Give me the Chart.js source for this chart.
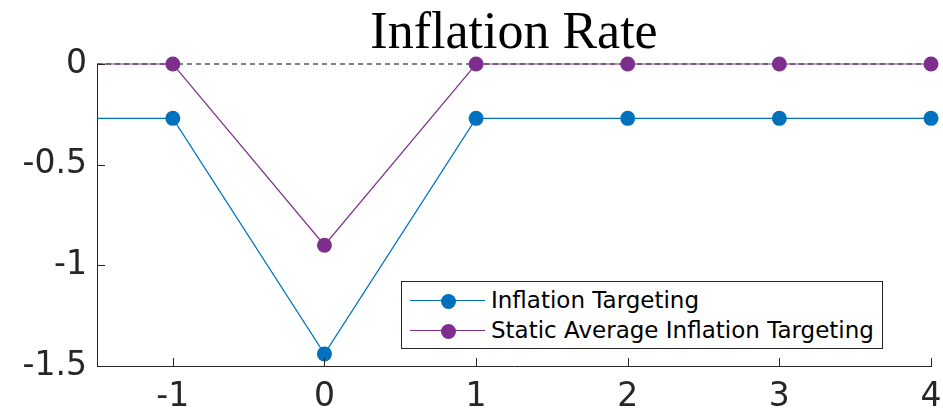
<!DOCTYPE html>
<html>
<head>
<meta charset="utf-8">
<script src="https://cdn.jsdelivr.net/npm/chart.js@4.4.0/dist/chart.umd.min.js"></script>
<style>
  body { margin: 0; background: #fff; }
  #wrap { position: relative; width: 943px; height: 415px; }
  #leyenda {
    position: absolute; left: 401px; top: 281px; width: 480px; height: 66px;
    border: 1px solid #262626; background: #fff;
    font-family: "DejaVu Sans", sans-serif; font-size: 23px; color: #000;
  }
  .fila { position: absolute; left: 0; height: 30px; line-height: 30px; white-space: nowrap; }
  .muestra { position: absolute; left: 8px; top: 14px; width: 75px; height: 0; border-top: 1.2px solid; }
  .punto { position: absolute; left: 39px; top: 8px; width: 15px; height: 15px; border-radius: 50%; }
  .texto { position: absolute; left: 89px; top: -1px; }
</style>
</head>
<body>
<div id="wrap">
  <canvas id="graficaInflacion" width="943" height="415"></canvas>
  <div id="leyenda">
    <div class="fila" style="top:4px"><div class="muestra" style="border-color:#0072BD"></div><div class="punto" style="background:#0072BD"></div><span class="texto">Inflation Targeting</span></div>
    <div class="fila" style="top:34px"><div class="muestra" style="border-color:#7E2F8E"></div><div class="punto" style="background:#7E2F8E"></div><span class="texto">Static Average Inflation Targeting</span></div>
  </div>
</div>
<script>
// datos
const periodos = [-1.5, -1, 0, 1, 2, 3, 4];
const inflacionTargeting = [-0.27, -0.27, -1.44, -0.27, -0.27, -0.27, -0.27];
const inflacionPromedio = [0, 0, -0.9, 0, 0, 0, 0];
const ticksX = [-1, 0, 1, 2, 3, 4];
const ticksY = [-1.5, -1, -0.5, 0];

const azul = '#0072BD';
const morado = '#7E2F8E';
const ejeColor = '#262626';

function puntos(valores) {
    return periodos.map((p, i) => ({ x: p, y: valores[i] }));
}
// sin marcador en el borde izquierdo
const radios = periodos.map(p => p < -1 ? 0 : 7.5);

// marcas de los ejes hacia dentro, como en matlab
const marcasInternas = {
    id: 'marcasInternas',
    afterDraw(chart) {
        const ctx = chart.ctx;
        const x = chart.scales.x, y = chart.scales.y;
        ctx.save();
        ctx.strokeStyle = ejeColor;
        ctx.lineWidth = 1;
        ctx.beginPath();
        ticksX.forEach(v => {
            const px = Math.round(x.getPixelForValue(v)) + 0.5;
            ctx.moveTo(px, y.bottom);
            ctx.lineTo(px, y.bottom - 8);
        });
        ticksY.forEach(v => {
            const py = Math.round(y.getPixelForValue(v)) + 0.5;
            ctx.moveTo(x.left, py);
            ctx.lineTo(x.left + 8, py);
        });
        ctx.stroke();
        ctx.restore();
    }
};

const fuenteTicks = { family: '"DejaVu Sans", sans-serif', size: 33 };

new Chart(document.getElementById('graficaInflacion'), {
    type: 'line',
    data: {
        datasets: [
            {
                label: 'Inflation Targeting',
                data: puntos(inflacionTargeting),
                borderColor: azul,
                backgroundColor: azul,
                borderWidth: 1.2,
                pointRadius: radios,
                pointBorderWidth: 0,
                pointBackgroundColor: azul,
                clip: false,
                order: 2
            },
            {
                label: 'Static Average Inflation Targeting',
                data: puntos(inflacionPromedio),
                borderColor: morado,
                backgroundColor: morado,
                borderWidth: 1.2,
                pointRadius: radios,
                pointBorderWidth: 0,
                pointBackgroundColor: morado,
                clip: false,
                order: 1
            },
            {
                label: 'cero',
                data: [{ x: periodos[0], y: 0 }, { x: periodos[periodos.length - 1], y: 0 }],
                borderColor: '#000',
                borderWidth: 1,
                borderDash: [5, 4],
                pointRadius: 0,
                clip: false,
                order: 3
            }
        ]
    },
    options: {
        responsive: false,
        animation: false,
        layout: { padding: { left: 0, right: 12, top: 0, bottom: 0 } },
        plugins: {
            legend: { display: false },
            tooltip: { enabled: false },
            title: {
                display: true,
                fullSize: false,
                text: 'Inflation Rate',
                color: '#000',
                font: { family: '"Liberation Serif", serif', size: 52, weight: 'normal', lineHeight: 1 },
                padding: { top: 8, bottom: 4 }
            }
        },
        scales: {
            x: {
                type: 'linear',
                min: -1.5,
                max: 4,
                afterBuildTicks: s => { s.ticks = ticksX.map(v => ({ value: v })); },
                afterFit: s => { s.height = 49; s.paddingRight = 0; s.paddingLeft = 0; },
                grid: { display: false, drawTicks: false },
                border: { display: true, color: ejeColor, width: 1 },
                ticks: {
                    color: ejeColor,
                    font: fuenteTicks,
                    padding: 12,
                    maxRotation: 0,
                    callback: v => String(v)
                }
            },
            y: {
                min: -1.5,
                max: 0,
                afterBuildTicks: s => { s.ticks = ticksY.map(v => ({ value: v })); },
                afterFit: s => { s.width = 97; s.paddingTop = 0; s.paddingBottom = 0; },
                grid: { display: false, drawTicks: false },
                border: { display: true, color: ejeColor, width: 1 },
                ticks: {
                    color: ejeColor,
                    font: fuenteTicks,
                    padding: 10,
                    callback: v => String(v)
                }
            }
        }
    },
    plugins: [marcasInternas]
});
</script>
</body>
</html>
